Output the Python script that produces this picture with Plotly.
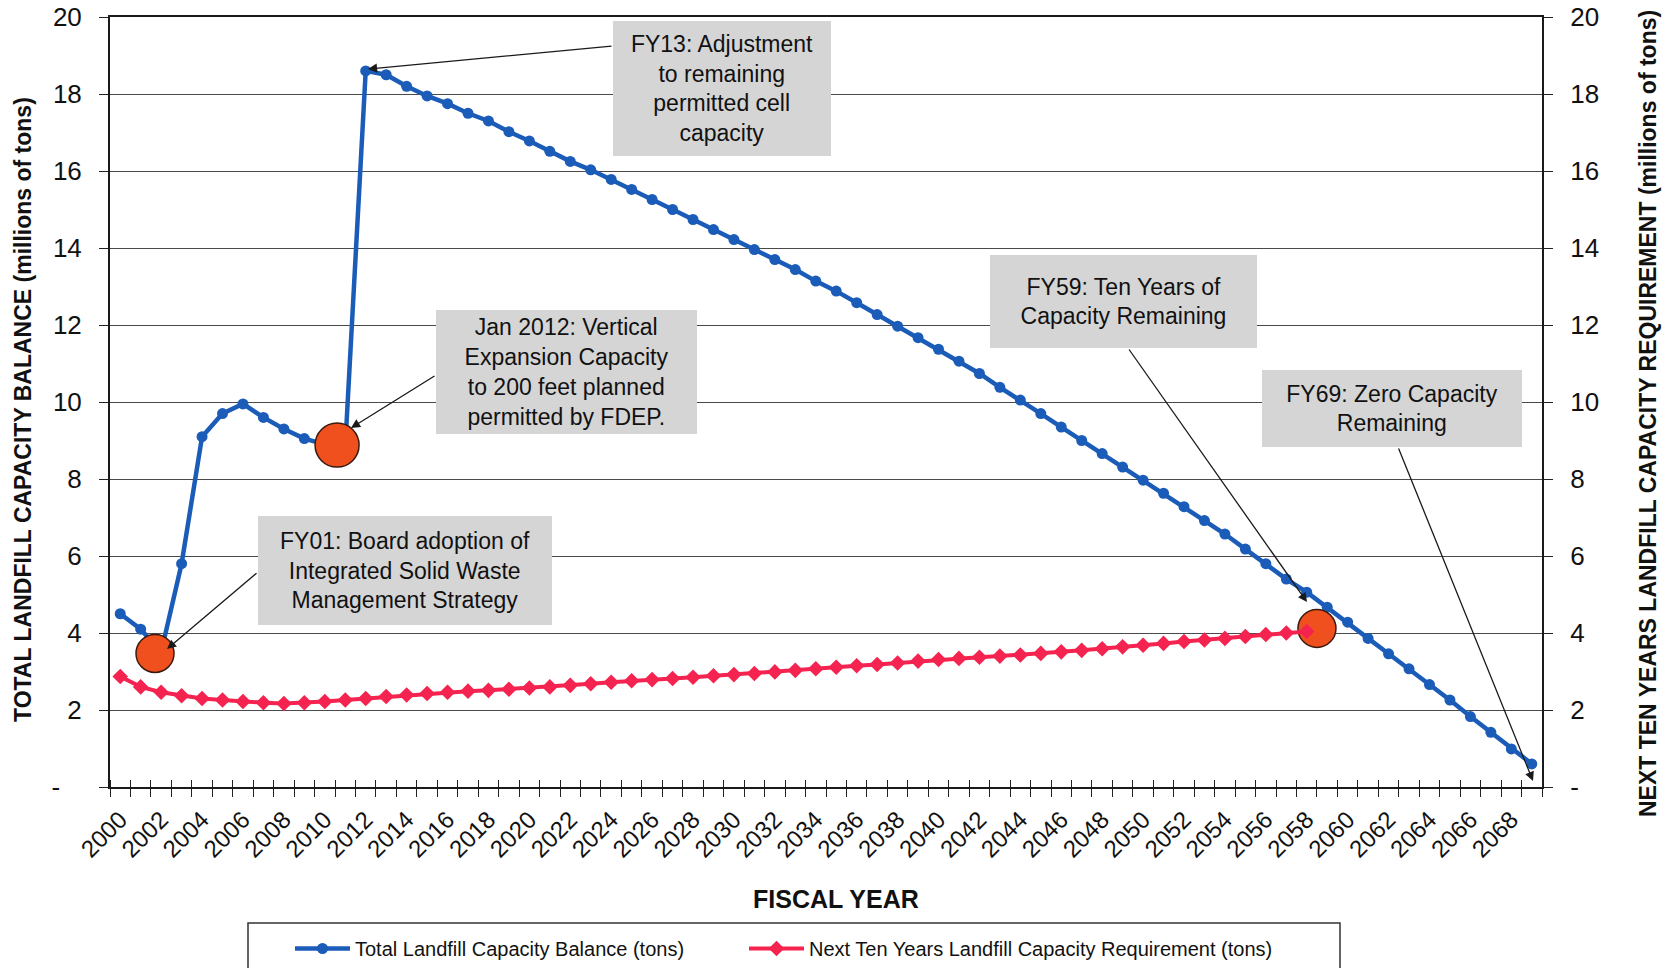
import plotly.graph_objects as go

# ---------------- data (millions of tons) ----------------
years = list(range(2000, 2070))
capacity_balance = [
    4.5, 4.1, 3.5, 5.8, 9.1, 9.7, 9.95, 9.6, 9.3, 9.05,
    8.9, 8.85, 18.6, 18.5, 18.2, 17.95, 17.75, 17.5, 17.3, 17.02,
    16.78, 16.51, 16.25, 16.03, 15.78, 15.52, 15.26, 15.0, 14.74, 14.48,
    14.22, 13.96, 13.70, 13.44, 13.14, 12.88, 12.58, 12.27, 11.97, 11.67,
    11.37, 11.06, 10.74, 10.38, 10.05, 9.7, 9.35, 9.0, 8.66, 8.31,
    7.97, 7.63, 7.28, 6.92, 6.57, 6.18, 5.8, 5.4, 5.06, 4.67,
    4.28, 3.86, 3.46, 3.07, 2.66, 2.26, 1.83, 1.42, 0.99, 0.6,
]
req_years = list(range(2000, 2059))
ten_year_requirement = [
    2.87, 2.6, 2.46, 2.37, 2.3, 2.26, 2.22, 2.19, 2.17, 2.19,
    2.22, 2.26, 2.3, 2.35, 2.39, 2.43, 2.46, 2.49, 2.51, 2.54,
    2.57, 2.6, 2.64, 2.68, 2.72, 2.76, 2.79, 2.82, 2.85, 2.89,
    2.92, 2.95, 2.99, 3.03, 3.07, 3.11, 3.15, 3.18, 3.22, 3.27,
    3.31, 3.34, 3.37, 3.40, 3.43, 3.47, 3.51, 3.55, 3.59, 3.64,
    3.68, 3.73, 3.78, 3.82, 3.86, 3.91, 3.96, 4.0, 4.04,
]
highlight_years = [2001.7, 2010.6, 2058.5]
highlight_values = [3.47, 8.88, 4.12]

x_tick_years = list(range(2000, 2069, 2))
y_tick_values = list(range(0, 21, 2))
y_tick_labels_left = ["-\u00a0\u00a0\u00a0"] + [str(v) for v in y_tick_values[1:]]
y_tick_labels_right = ["-"] + [str(v) for v in y_tick_values[1:]]

series_names = [
    "Total Landfill Capacity Balance (tons)",
    "Next Ten Years Landfill Capacity Requirement (tons)",
]
box_texts = [
    "FY13: Adjustment<br>to remaining<br>permitted cell<br>capacity",
    "Jan 2012: Vertical<br>Expansion Capacity<br>to 200 feet planned<br>permitted by FDEP.",
    "FY01: Board adoption of<br>Integrated Solid Waste<br>Management Strategy",
    "FY59: Ten Years of<br>Capacity Remaining",
    "FY69: Zero Capacity<br>Remaining",
]

# ---------------- layout geometry / style ----------------
W, H = 1669, 968
PLOT_L, PLOT_R, PLOT_T, PLOT_B = 110, 1542, 17, 787
X_MIN, X_MAX = 1999.5, 2069.5
Y_MIN, Y_MAX = 0, 20

def dx(X):
    return X_MIN + (X - PLOT_L) / (PLOT_R - PLOT_L) * (X_MAX - X_MIN)

def dy(Y):
    return Y_MIN + (PLOT_B - Y) / (PLOT_B - PLOT_T) * (Y_MAX - Y_MIN)

def px(X):
    return (X - PLOT_L) / (PLOT_R - PLOT_L)

def py(Y):
    return (PLOT_B - Y) / (PLOT_B - PLOT_T)

BLUE = "#1b5cb8"
RED = "#f5234f"
ORANGE = "#f0501e"
BOX = "#d5d5d5"
GRID = "#4a4a4a"
FONT = "Liberation Sans, Arial, sans-serif"

fig = go.Figure()

fig.add_trace(go.Scatter(
    x=req_years, y=ten_year_requirement, name=series_names[1],
    mode="lines+markers", yaxis="y2", legend="legend2",
    line=dict(color=RED, width=4),
    marker=dict(symbol="diamond", size=12, color=RED),
))
fig.add_trace(go.Scatter(
    x=years, y=capacity_balance, name=series_names[0],
    mode="lines+markers", legend="legend",
    line=dict(color=BLUE, width=4.5),
    marker=dict(symbol="circle", size=11, color=BLUE),
))
fig.add_trace(go.Scatter(
    x=highlight_years, y=highlight_values, mode="markers", showlegend=False,
    marker=dict(size=[38, 44, 38], color=ORANGE, opacity=1,
                line=dict(color="#3a1a0e", width=1.5)),
    hoverinfo="skip",
))
# invisible helper trace so the overlaying tick axis is drawn
fig.add_trace(go.Scatter(
    x=[years[0]], y=[capacity_balance[0]], xaxis="x2", mode="markers",
    marker=dict(opacity=0), showlegend=False, hoverinfo="skip",
))

annotations = []
boxes = [
    (613, 21, 831, 156),
    (436, 310, 697, 434),
    (258, 516, 552, 625),
    (990, 255, 1257, 348),
    (1262, 370, 1522, 447),
]
for txt, (l, t, r, b) in zip(box_texts, boxes):
    annotations.append(dict(
        text=txt, xref="paper", yref="paper",
        x=px((l + r) / 2), y=py((t + b) / 2), xanchor="center", yanchor="middle",
        width=r - l, height=b - t, bgcolor=BOX, borderwidth=0, borderpad=0,
        showarrow=False, align="center",
        font=dict(family=FONT, size=23, color="#111111"),
    ))
arrows = [
    ((613, 46), (368, 69)),
    ((436, 375), (351, 428)),
    ((258, 572), (167, 649)),
    ((1128, 348), (1307, 602)),
    ((1398, 447), (1533, 781)),
]
for (sx, sy), (tx, ty) in arrows:
    annotations.append(dict(
        text="", xref="x", yref="y", axref="x", ayref="y",
        x=dx(tx), y=dy(ty), ax=dx(sx), ay=dy(sy),
        showarrow=True, arrowhead=2, arrowsize=1.4, arrowwidth=1.3,
        arrowcolor="#1a1a1a", standoff=0, startstandoff=0,
    ))
annotations.append(dict(
    text="TOTAL LANDFILL CAPACITY BALANCE (millions of tons)",
    xref="paper", yref="paper", x=px(23), y=py(410), textangle=-90,
    xanchor="center", yanchor="middle", showarrow=False,
    font=dict(family=FONT, size=23, color="#111111", weight="bold"),
))
annotations.append(dict(
    text="NEXT TEN YEARS LANDFILL CAPACITY REQUIREMENT (millions of tons)",
    xref="paper", yref="paper", x=px(1648), y=py(414), textangle=-90,
    xanchor="center", yanchor="middle", showarrow=False,
    font=dict(family=FONT, size=23, color="#111111", weight="bold"),
))
annotations.append(dict(
    text="FISCAL YEAR", xref="paper", yref="paper", x=px(836), y=py(899),
    xanchor="center", yanchor="middle", showarrow=False,
    font=dict(family=FONT, size=25, color="#111111", weight="bold"),
))

legend_style = dict(
    orientation="h", xanchor="left", yanchor="top", itemwidth=55,
    font=dict(family=FONT, size=20, color="#111111"),
    bgcolor="rgba(0,0,0,0)", borderwidth=0,
)

fig.update_layout(
    width=W, height=H,
    margin=dict(l=PLOT_L, r=W - PLOT_R, t=PLOT_T, b=H - PLOT_B, autoexpand=False),
    paper_bgcolor="white", plot_bgcolor="white",
    showlegend=True,
    legend=dict(x=px(290), y=py(929), **legend_style),
    legend2=dict(x=px(744), y=py(929), **legend_style),
    xaxis=dict(
        range=[X_MIN, X_MAX], tickmode="array", tickvals=x_tick_years,
        ticktext=[str(v) for v in x_tick_years], tickangle=-45,
        ticks="", ticklabelstandoff=7,
        tickfont=dict(family=FONT, size=24, color="#111111"),
        minor=dict(ticks="outside", tick0=X_MIN, dtick=1, ticklen=8,
                   tickcolor="#222222", tickwidth=1.2, showgrid=False),
        showgrid=False, zeroline=False,
        showline=True, linecolor="#1a1a1a", linewidth=2, mirror=True,
    ),
    xaxis2=dict(
        overlaying="x", anchor="y", side="bottom", range=[X_MIN, X_MAX],
        showticklabels=False, ticks="", showgrid=False, zeroline=False, showline=False,
        minor=dict(ticks="inside", tick0=X_MIN, dtick=1, ticklen=7,
                   tickcolor="#222222", tickwidth=1.2, showgrid=False),
    ),
    yaxis=dict(
        range=[Y_MIN, Y_MAX], tickmode="array", tickvals=y_tick_values,
        ticktext=y_tick_labels_left, ticks="outside", ticklen=9,
        tickcolor="#222222", ticklabelstandoff=12,
        tickfont=dict(family=FONT, size=26, color="#111111"),
        showgrid=True, gridcolor=GRID, gridwidth=1, zeroline=False,
        showline=True, linecolor="#1a1a1a", linewidth=2,
    ),
    yaxis2=dict(
        overlaying="y", side="right", range=[Y_MIN, Y_MAX], tickmode="array",
        tickvals=y_tick_values, ticktext=y_tick_labels_right,
        ticks="outside", ticklen=9, tickcolor="#222222", ticklabelstandoff=12,
        tickfont=dict(family=FONT, size=26, color="#111111"),
        showgrid=False, zeroline=False,
        showline=True, linecolor="#1a1a1a", linewidth=2,
    ),
    annotations=annotations,
    shapes=[dict(
        type="rect", xref="paper", yref="paper",
        x0=px(248), x1=px(1340), y0=py(923), y1=py(990),
        line=dict(color="#333333", width=1.5), fillcolor="rgba(0,0,0,0)",
    )],
)

fig.write_html("out.html")
